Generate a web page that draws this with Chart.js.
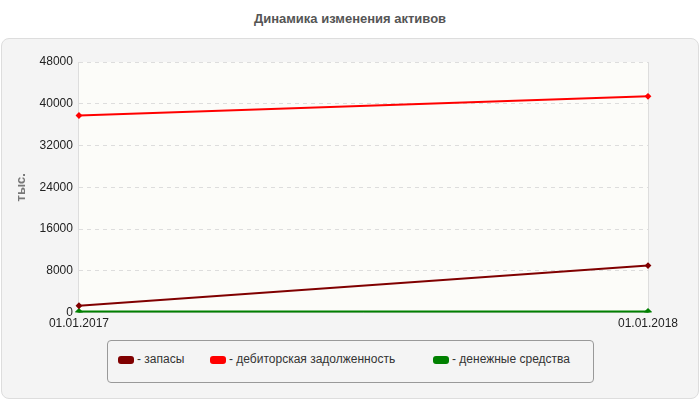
<!DOCTYPE html>
<html><head><meta charset="utf-8">
<script src="https://cdn.jsdelivr.net/npm/chart.js"></script>
<style>
body{margin:0;width:700px;height:400px;background:#fff;font-family:Arial,"Liberation Sans",sans-serif;position:relative;overflow:hidden}
#title{position:absolute;top:11px;left:0;width:700px;text-align:center;font-size:13px;font-weight:bold;color:#555}
#panel{position:absolute;left:1px;top:38px;width:696px;height:359px;background:#f4f4f4;border:1px solid #ddd;border-radius:8px}
#c{position:absolute;left:0;top:0}
#legend{position:absolute;left:107px;top:340px;width:485px;height:41px;border:1px solid #999;border-radius:4px;background:#f4f4f4;font-size:12px;color:#333}
.it{position:absolute;top:11px;white-space:nowrap}
.sw{display:inline-block;width:16px;height:8px;border-radius:3px;margin-right:3px;vertical-align:middle}
</style></head><body>
<div id="title">Динамика изменения активов</div>
<div id="panel"></div>
<canvas id="c" width="700" height="400"></canvas>
<div id="legend">
<span class="it" style="left:10px"><span class="sw" style="background:#800000"></span>- запасы</span>
<span class="it" style="left:102px"><span class="sw" style="background:#ff0000"></span>- дебиторская задолженность</span>
<span class="it" style="left:325px"><span class="sw" style="background:#008000"></span>- денежные средства</span>
</div>
<script>
const categories=["01.01.2017","01.01.2018"];
const zapasy=[1310,9000];
const debitor=[37750,41430];
const dengi=[100,100];
const yTicks=[0,8000,16000,24000,32000,40000,48000];
const bgPlugin={id:'bg',beforeDraw(ch){const a=ch.chartArea,c=ch.ctx;c.save();c.fillStyle='#fcfcf9';c.fillRect(a.left,a.top,a.right-a.left,a.bottom-a.top);c.restore();}};
function ds(label,data,color,w){return{label,data,borderColor:color,backgroundColor:color,borderWidth:w,pointRadius:2,pointStyle:'rectRot',tension:0};}
new Chart(document.getElementById('c'),{type:'line',
data:{labels:categories,datasets:[ds('- запасы',zapasy,'#800000',2),ds('- дебиторская задолженность',debitor,'#ff0000',2),ds('- денежные средства',dengi,'#008000',3)]},
options:{responsive:false,animation:false,
layout:{padding:{left:10,right:52,top:62,bottom:65}},
plugins:{legend:{display:false},tooltip:{enabled:false}},
scales:{
x:{offset:false,grid:{color:'#ddd',drawTicks:false},border:{color:'#ccc'},ticks:{color:'#222',font:{size:12},padding:4,maxRotation:0,autoSkip:false}},
y:{min:0,max:48000,afterBuildTicks(s){s.ticks=yTicks.map(v=>({value:v}));},grid:{color:'#ddd',drawTicks:false},border:{dash:[4,4],display:false},
 ticks:{color:'#222',font:{size:12},padding:6,callback:v=>String(v)},title:{display:true,text:'тыс.',color:'#777',font:{size:13,weight:'bold'}}}
}},plugins:[bgPlugin]});
</script></body></html>
